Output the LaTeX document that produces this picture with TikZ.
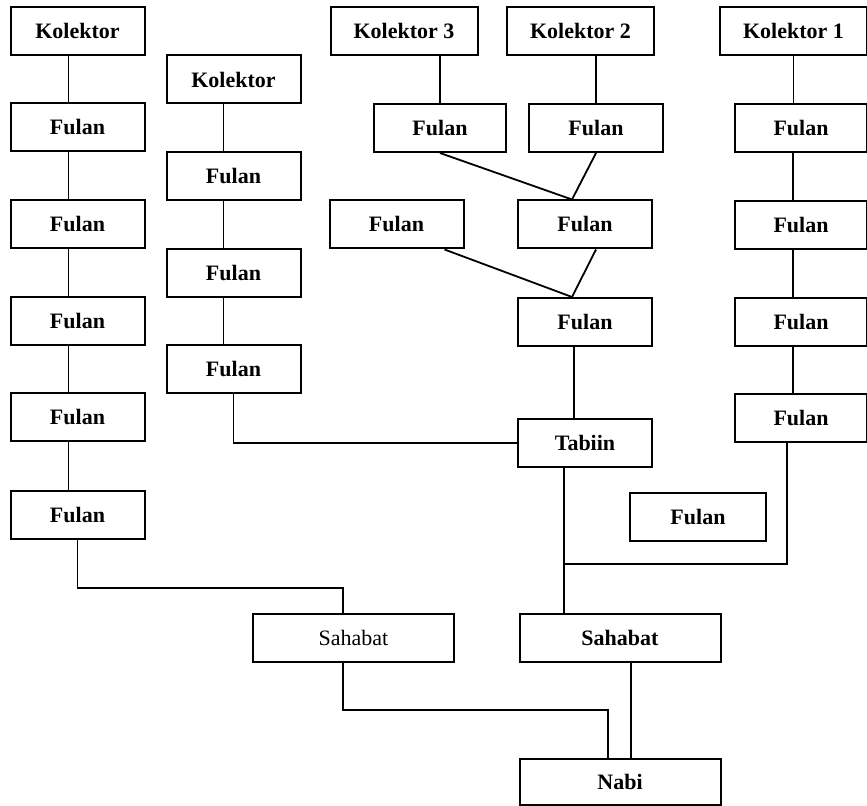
\documentclass[tikz,border=0pt]{standalone}
\usepackage{fontspec}
\setmainfont{Liberation Serif}

\tikzset{
  box/.style={draw, line width=1pt, minimum width=67pt, minimum height=24pt,
    inner sep=0pt, font=\fontsize{11}{13}\selectfont\bfseries},
  wide/.style={minimum width=73.5pt},
  long/.style={minimum width=100.5pt},
  link/.style={line width=0.9pt}
}

\begin{document}
\begin{tikzpicture}[x=0.5pt, y=-0.5pt]
\useasboundingbox (0,0) rectangle (867,806);
% first chain
\node[box] (ka) at (77.5,31) {Kolektor};
\foreach \y [count=\i] in {127,224,321,417,515}
  \node[box] (fa\i) at (77.5,\y) {Fulan};
% second chain
\node[box] (kb) at (233.5,79.5) {Kolektor};
\foreach \y [count=\i] in {176.5,273.5,369.5}
  \node[box] (fb\i) at (233.5,\y) {Fulan};
% middle branches
\node[box, wide] (k3) at (404,31) {Kolektor 3};
\node[box, wide] (k2) at (580.5,31) {Kolektor 2};
\node[box, minimum width=66pt] (f31) at (440,128) {Fulan};
\node[box] (f21) at (596,128) {Fulan};
\node[box] (fl) at (396.5,224.5) {Fulan};
\node[box] (fm) at (585,224.5) {Fulan};
\node[box] (fc) at (585,322) {Fulan};
\node[box] (t) at (585,443) {Tabiin};
\node[box, minimum width=68pt] (fx) at (698,517) {Fulan};
% right chain
\node[box, wide] (k1) at (793.5,31) {Kolektor 1};
\foreach \y [count=\i] in {128.5,225,322,418}
  \node[box, minimum width=66pt] (fr\i) at (801,\y) {Fulan};
% bottom
\node[box, long, font=\fontsize{11}{13}\selectfont] (s1) at (353.5,637.5) {Sahabat};
\node[box, long] (s2) at (620,637.5) {Sahabat};
\node[box, long, minimum height=23pt] (n) at (620,782) {Nabi};

\coordinate (ya) at (0,588);
\coordinate (yb) at (0,710);
\coordinate (j) at (564,564);

\foreach \a/\b in {ka/fa1,fa1/fa2,fa2/fa3,fa3/fa4,fa4/fa5}
  \draw[link] ([xshift=-4.5pt]\a.south) -- ([xshift=-4.5pt]\b.north);
\foreach \a/\b in {kb/fb1,fb1/fb2,fb2/fb3}
  \draw[link] ([xshift=-5pt]\a.south) -- ([xshift=-5pt]\b.north);
\draw[link] (k1.south) -- (k1.south |- fr1.north);
\foreach \a/\b in {fr1/fr2,fr2/fr3,fr3/fr4}
  \draw[link] ([xshift=-4pt]\a.south) -- ([xshift=-4pt]\b.north);

\draw[link] (f31.north |- k3.south) -- (f31.north);
\draw[link] (f21.north |- k2.south) -- (f21.north);
\draw[link] (f31.south) -- ([xshift=-6.5pt]fm.north);
\draw[link] (f21.south) -- ([xshift=-6.5pt]fm.north);
\draw[link] ([xshift=24pt]fl.south) -- ([xshift=-6.5pt]fc.north);
\draw[link] ([xshift=5.5pt]fm.south) -- ([xshift=-6.5pt]fc.north);
\draw[link] ([xshift=-5.5pt]fc.south) -- ([xshift=-5.5pt]t.north);
\draw[link] (fb3.south) |- (t.west);

\draw[link] ([xshift=-10.5pt]t.south) -- ([xshift=-10.5pt]t.south |- s2.north);
\draw[link] ([xshift=-7pt]fr4.south) |- (j);
\draw[link] (fa5.south) -- (fa5.south |- ya) -| ([xshift=-5.25pt]s1.north);
\draw[link] ([xshift=-5.25pt]s1.south) -- ([xshift=-5.25pt]s1.south |- yb) -| ([xshift=-6pt]n.north);
\draw[link] ([xshift=5.5pt]s2.south) -- ([xshift=5.5pt]n.north);
\end{tikzpicture}
\end{document}
